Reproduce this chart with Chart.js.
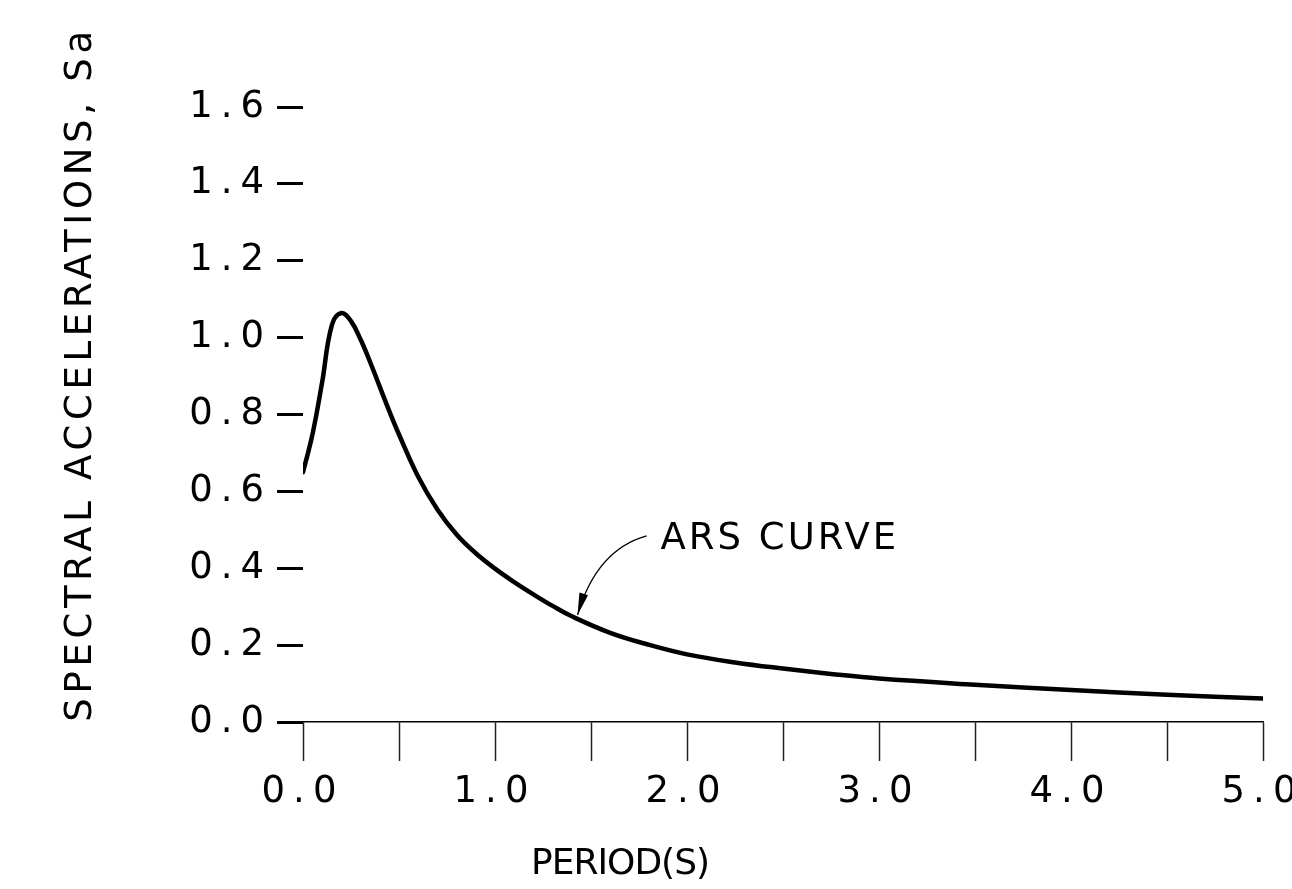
<!DOCTYPE html>
<html>
<head>
<meta charset="utf-8">
<script src="https://cdn.jsdelivr.net/npm/chart.js@4.4.1/dist/chart.umd.min.js"></script>
<style>
html, body { margin: 0; padding: 0; background: #fff; overflow: hidden; width: 1292px; height: 889px; }
#wrap { width: 1340px; height: 889px; }
</style>
</head>
<body>
<div id="wrap"><canvas id="c" width="1340" height="889"></canvas></div>
<script>
// ---- data ----
const periods = [0, 0.05, 0.1, 0.15, 0.2, 0.25, 0.3, 0.35, 0.4, 0.45, 0.5, 0.6, 0.7, 0.8, 0.9, 1.0, 1.1, 1.2, 1.3, 1.4, 1.6, 1.8, 2.0, 2.25, 2.5, 2.75, 3.0, 3.5, 4.0, 4.5, 5.0];
const saValues = [0.65, 0.75, 0.885, 1.032, 1.064, 1.043, 0.995, 0.936, 0.872, 0.808, 0.748, 0.638, 0.553, 0.488, 0.439, 0.399, 0.364, 0.332, 0.302, 0.275, 0.232, 0.201, 0.176, 0.155, 0.139, 0.125, 0.113, 0.097, 0.083, 0.071, 0.061];
const xTickStep = 0.5;
const yTickStep = 0.2;
const xRange = [0, 5];
const yRange = [0, 1.6];
const xAxisTitle = 'PERIOD(S)';
const yAxisTitle = 'SPECTRAL ACCELERATIONS, Sa';
const annotationText = 'ARS CURVE';
const annotationPoint = [1.43, 0.268];

const FONT = '"DejaVu Sans", "Liberation Sans", sans-serif';

const cadText = {
  id: 'cadText',
  beforeDraw(chart) {
    chart.ctx.letterSpacing = '8px';
  },
  afterDraw(chart) {
    const ctx = chart.ctx;
    const xs = chart.scales.x, ys = chart.scales.y;
    ctx.save();
    ctx.fillStyle = '#000';
    ctx.strokeStyle = '#000';
    ctx.font = '37px ' + FONT;

    // y axis title (rotated)
    ctx.save();
    ctx.letterSpacing = '4.7px';
    ctx.translate(81, 374);
    ctx.rotate(-Math.PI / 2);
    ctx.textAlign = 'center';
    ctx.textBaseline = 'middle';
    ctx.fillText(yAxisTitle, 0, 0);
    ctx.restore();

    // x axis title
    ctx.save();
    ctx.font = '36px ' + FONT;
    ctx.letterSpacing = '-1px';
    ctx.textAlign = 'center';
    ctx.textBaseline = 'middle';
    ctx.fillText(xAxisTitle, 620, 865);
    ctx.restore();

    // annotation with leader arrow
    const tx = xs.getPixelForValue(annotationPoint[0]);
    const ty = ys.getPixelForValue(annotationPoint[1]) - 4;
    const sx = tx + 69, sy = ty - 79;
    const cx = tx + 19, cy = ty - 65;
    ctx.lineWidth = 1.3;
    ctx.beginPath();
    ctx.moveTo(sx, sy);
    ctx.quadraticCurveTo(cx, cy, tx, ty);
    ctx.stroke();
    // arrowhead
    let dx = tx - cx, dy = ty - cy;
    const len = Math.hypot(dx, dy);
    dx /= len; dy /= len;
    const L = 22, W = 4.5;
    const bx = tx - dx * L, by = ty - dy * L;
    ctx.beginPath();
    ctx.moveTo(tx, ty);
    ctx.lineTo(bx - dy * W, by + dx * W);
    ctx.lineTo(bx + dy * W, by - dx * W);
    ctx.closePath();
    ctx.fill();

    ctx.save();
    ctx.letterSpacing = '3px';
    ctx.textAlign = 'left';
    ctx.textBaseline = 'middle';
    ctx.fillText(annotationText, tx + 83, sy + 3);
    ctx.restore();

    ctx.restore();
  }
};

const points = periods.map((p, i) => ({ x: p, y: saValues[i] }));

new Chart(document.getElementById('c'), {
  type: 'line',
  data: {
    datasets: [{
      data: points,
      borderColor: '#000',
      borderWidth: 4.5,
      pointRadius: 0,
      fill: false,
      tension: 0.4,
      borderCapStyle: 'round',
      borderJoinStyle: 'round'
    }]
  },
  options: {
    responsive: false,
    animation: false,
    devicePixelRatio: 1,
    layout: { padding: { top: 107, right: 77, left: 0, bottom: 0 } },
    plugins: { legend: { display: false }, tooltip: { enabled: false } },
    scales: {
      x: {
        type: 'linear',
        min: xRange[0],
        max: xRange[1],
        afterFit(s) { s.height = 167; },
        border: { display: true, color: '#000', width: 1.5 },
        grid: { drawOnChartArea: false, drawTicks: true, tickLength: 39, tickWidth: 1.5, tickColor: '#222' },
        ticks: {
          stepSize: xTickStep,
          autoSkip: false,
          maxRotation: 0,
          padding: 9,
          color: '#000',
          font: { family: FONT, size: 37 },
          callback: v => (Math.abs(v - Math.round(v)) < 1e-6 ? v.toFixed(1) : '')
        }
      },
      y: {
        min: yRange[0],
        max: yRange[1],
        afterFit(s) { s.width = 303; },
        border: { display: false },
        grid: { drawOnChartArea: false, drawTicks: true, tickLength: 26, tickWidth: 3, tickColor: '#000' },
        ticks: {
          stepSize: yTickStep,
          padding: 5,
          color: '#000',
          font: { family: FONT, size: 37 },
          callback: v => v.toFixed(1)
        }
      }
    }
  },
  plugins: [cadText]
});
</script>
</body>
</html>
